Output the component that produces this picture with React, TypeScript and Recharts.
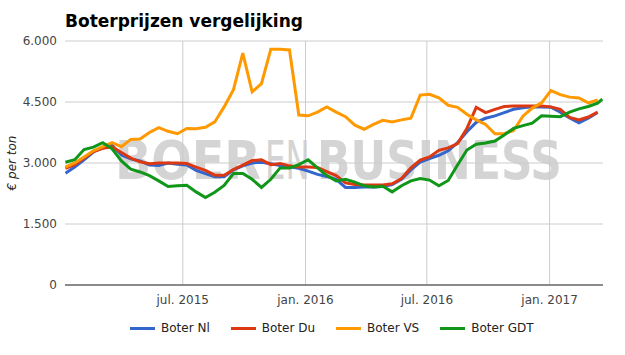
import React from "react";
import { LineChart, Line, XAxis, YAxis, CartesianGrid, ReferenceLine } from "recharts";

const dates = [
  "2015-01-06", "2015-01-20", "2015-02-03", "2015-02-17", "2015-03-03", "2015-03-17", "2015-03-31", "2015-04-14",
  "2015-04-28", "2015-05-12", "2015-05-26", "2015-06-09", "2015-06-23", "2015-07-07", "2015-07-21", "2015-08-04",
  "2015-08-18", "2015-09-01", "2015-09-15", "2015-09-29", "2015-10-13", "2015-10-27", "2015-11-10", "2015-11-24",
  "2015-12-08", "2015-12-22", "2016-01-05", "2016-01-19", "2016-02-02", "2016-02-16", "2016-03-01", "2016-03-15",
  "2016-03-29", "2016-04-12", "2016-04-26", "2016-05-10", "2016-05-24", "2016-06-07", "2016-06-21", "2016-07-05",
  "2016-07-19", "2016-08-02", "2016-08-16", "2016-08-30", "2016-09-13", "2016-09-27", "2016-10-11", "2016-10-25",
  "2016-11-08", "2016-11-22", "2016-12-06", "2016-12-20", "2017-01-03", "2017-01-17", "2017-01-31", "2017-02-14",
  "2017-02-28", "2017-03-14", "2017-03-21",
];

const boterNl = [
  2750, 2900, 3080, 3270, 3380, 3430, 3200, 3100, 3050, 2950, 2940, 3000, 2970, 2950, 2820, 2740,
  2660, 2660, 2830, 2930, 3000, 3020, 2980, 2940, 2910, 2870, 2800, 2720, 2670, 2600, 2400, 2400,
  2410, 2410, 2420, 2470, 2600, 2830, 3020, 3110, 3190, 3300, 3500, 3770, 4000, 4100, 4160, 4240,
  4320, 4360, 4380, 4380, 4370, 4250, 4110, 3990, 4100, 4240, null,
];

const boterDu = [
  2870, 2960, 3120, 3280, 3360, 3400, 3260, 3120, 3030, 2980, 3000, 3000, 3000, 2990, 2900, 2820,
  2700, 2700, 2840, 2950, 3060, 3080, 2960, 2990, 2930, 2900, 2900, 2890, 2790, 2690, 2510, 2470,
  2460, 2460, 2460, 2490, 2620, 2880, 3070, 3150, 3310, 3370, 3480, 3850, 4370, 4240, 4320, 4390,
  4400, 4400, 4400, 4400, 4380, 4320, 4120, 4060, 4130, 4250, null,
];

const boterVs = [
  2900, 3000, 3150, 3300, 3400, 3500, 3400, 3580, 3590, 3750, 3870, 3780, 3720, 3850, 3840, 3880,
  4010, 4380, 4800, 5700, 4750, 4950, 5800, 5800, 5780, 4180, 4160, 4250, 4380, 4250, 4140, 3930,
  3830, 3950, 4050, 4010, 4060, 4100, 4670, 4690, 4600, 4420, 4370, 4200, 4060, 3950, 3720, 3720,
  3800, 4150, 4350, 4480, 4780, 4680, 4620, 4600, 4480, 4550, null,
];

const boterGdt = [
  3020, 3080, 3330, 3390, 3500, 3350, 3050, 2850, 2780, 2690, 2560, 2420, 2440, 2450, 2290, 2150,
  2280, 2450, 2740, 2740, 2600, 2400, 2600, 2880, 2880, 2960, 3080, 2880, 2690, 2560, 2600, 2530,
  2440, 2410, 2430, 2290, 2440, 2560, 2620, 2580, 2440, 2570, 2950, 3320, 3460, 3490, 3540, 3690,
  3850, 3920, 3980, 4160, 4150, 4140, 4250, 4330, 4390, 4470, 4570,
];

const yTicks = [0, 1500, 3000, 4500, 6000];
const xTickDates = ["2015-07-01", "2016-01-01", "2016-07-01", "2017-01-01"];
const xTickLabels = ["jul. 2015", "jan. 2016", "jul. 2016", "jan. 2017"];

const series = [
  { key: "nl", name: "Boter Nl", color: "#3366cc", values: boterNl },
  { key: "du", name: "Boter Du", color: "#dc3912", values: boterDu },
  { key: "vs", name: "Boter VS", color: "#ff9900", values: boterVs },
  { key: "gdt", name: "Boter GDT", color: "#109618", values: boterGdt },
];

const ts = (s: string) => Date.parse(s + "T00:00:00Z");

const data = dates.map((d, i) => {
  const row: Record<string, number | null> = { t: ts(d) };
  series.forEach((s) => {
    row[s.key] = s.values[i];
  });
  return row;
});

const xTicks = xTickDates.map(ts);
const xDomain = [Date.UTC(2015, 0, 5, 10), Date.UTC(2017, 2, 22, 2)];

const fmtY = (v: number) => {
  const s = String(v);
  return s.length > 3 ? s.slice(0, s.length - 3) + "." + s.slice(-3) : s;
};
const fmtX = (v: number) => {
  const i = xTicks.indexOf(v);
  return i >= 0 ? xTickLabels[i] : "";
};

const FONT = "'DejaVu Sans', sans-serif";
const WM_FONT = "'DejaVu Sans Condensed', 'DejaVu Sans', sans-serif";

export default function App() {
  return (
    <div style={{ position: "absolute", left: 0, top: 0, width: 625, height: 355, background: "#fff", overflow: "hidden" }}>
      <svg width={625} height={355} style={{ position: "absolute", left: 0, top: 0 }}>
        <g fontFamily={WM_FONT} fill="#d4d4d4">
          <text x={115} y={179} fontSize={53} fontWeight="bold" textLength={146} lengthAdjust="spacingAndGlyphs">BOER</text>
          <text x={0} y={0} fontSize={53} fontWeight="normal" transform="translate(265,179) scale(0.68,1)">EN</text>
          <text x={317} y={179} fontSize={53} fontWeight="bold" textLength={245} lengthAdjust="spacingAndGlyphs">BUSINESS</text>
        </g>
      </svg>
      <div style={{ position: "absolute", left: 0, top: 0 }}>
        <LineChart width={625} height={355} data={data} margin={{ top: 41, right: 22, bottom: 0, left: 0 }}>
          <CartesianGrid stroke="#cccccc" strokeWidth={1} vertical={false} horizontal={true} />
          {xTicks.map((t) => (
            <ReferenceLine key={t} x={t} stroke="#cccccc" strokeWidth={1} ifOverflow="hidden" />
          ))}
          <XAxis
            dataKey="t"
            type="number"
            scale="time"
            domain={xDomain}
            ticks={xTicks}
            tickFormatter={fmtX}
            height={70}
            tickLine={false}
            tickSize={0}
            tickMargin={10}
            axisLine={{ stroke: "#333333", strokeWidth: 1 }}
            tick={{ fill: "#444444", fontSize: 12, fontFamily: FONT }}
            allowDataOverflow
          />
          <YAxis
            type="number"
            domain={[0, 6000]}
            ticks={yTicks}
            tickFormatter={fmtY}
            width={65}
            axisLine={false}
            tickLine={false}
            tickSize={0}
            tickMargin={8}
            tick={{ fill: "#444444", fontSize: 12, fontFamily: FONT }}
          />
          {series.map((s) => (
            <Line
              key={s.key}
              dataKey={s.key}
              name={s.name}
              stroke={s.color}
              strokeWidth={3}
              dot={false}
              activeDot={false}
              type="linear"
              isAnimationActive={false}
              connectNulls={false}
            />
          ))}
        </LineChart>
      </div>
      <div
        style={{
          position: "absolute",
          left: 130,
          top: 320,
          display: "flex",
          alignItems: "center",
          fontFamily: FONT,
          fontSize: 12,
          lineHeight: "16px",
          color: "#222",
          whiteSpace: "nowrap",
        }}
      >
        {series.map((s) => (
          <div key={s.key} style={{ display: "flex", alignItems: "center", marginRight: 21 }}>
            <div style={{ width: 25, height: 3, background: s.color, marginRight: 6 }} />
            <span>{s.name}</span>
          </div>
        ))}
      </div>
      <svg width={625} height={355} style={{ position: "absolute", left: 0, top: 0, pointerEvents: "none" }}>
        <text x={65} y={27} fontFamily={FONT} fontSize={17} fontWeight="bold" fill="#000">
          Boterprijzen vergelijking
        </text>
        <text
          x={0}
          y={0}
          transform="translate(16,163) rotate(-90)"
          textAnchor="middle"
          fontFamily={FONT}
          fontSize={12}
          fontStyle="italic"
          fill="#222"
        >
          € per ton
        </text>
      </svg>
    </div>
  );
}
